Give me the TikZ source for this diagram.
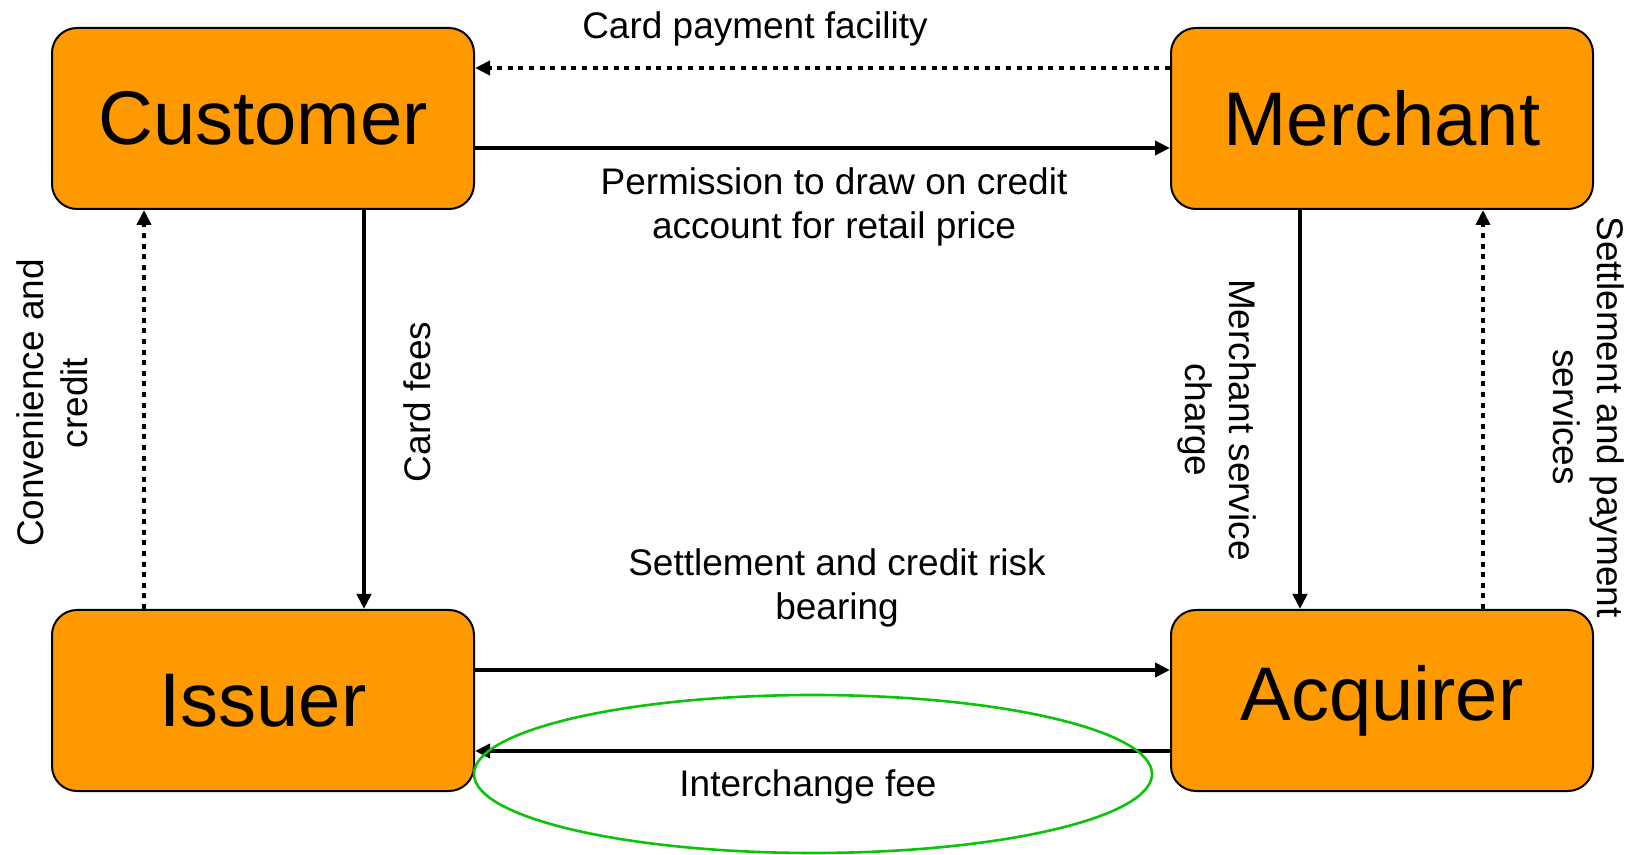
\documentclass[tikz,border=0pt]{standalone}
\usepackage{fontspec}
\setmainfont{Liberation Sans}
\usetikzlibrary{arrows.meta}
\definecolor{boxorange}{RGB}{255,153,0}
\definecolor{ringgreen}{RGB}{10,195,10}
\tikzset{
  party/.style={draw=black, line width=1pt, fill=boxorange, rounded corners=12.5pt,
    minimum width=211pt, minimum height=90.5pt, inner sep=0pt,
    font=\fontsize{38}{44}\selectfont},
  flow/.style={line width=2.3pt, -{Triangle[length=7.5pt,width=7pt]}},
  dotflow/.style={flow, dash pattern=on 2.5pt off 2.8pt},
  lbl/.style={inner sep=0pt, align=center, font=\fontsize{18.5}{22}\selectfont}
}
\begin{document}
\begin{tikzpicture}[x=0.5pt,y=0.5pt,yscale=-1]
\useasboundingbox (0,0) rectangle (1635,855);
% Parties
\node[party] (cust) at (263,118.5) {Customer};
\node[party] (merch) at (1382,118.5) {Merchant};
\node[party] (iss) at (263,700.5) {Issuer};
\node[party] (acq) at (1382,700.5) {Acquirer};
% Top flows
\draw[dotflow] (merch.west |- 0,68) -- (cust.east |- 0,68);
\draw[flow] (cust.east |- 0,148) -- (merch.west |- 0,148);
% Left flows
\draw[flow] (cust.south -| 364,0) -- (iss.north -| 364,0);
\draw[dotflow] (iss.north -| 144,0) -- (cust.south -| 144,0);
% Right flows
\draw[flow] (merch.south -| 1300,0) -- (acq.north -| 1300,0);
\draw[dotflow] (acq.north -| 1483,0) -- (merch.south -| 1483,0);
% Bottom flows
\draw[flow] (iss.east |- 0,670) -- (acq.west |- 0,670);
\draw[flow] (acq.west |- 0,751) -- (iss.east |- 0,751);
% Interchange ring
\draw[ringgreen, line width=1.3pt] (813,774) ellipse [x radius=339, y radius=79];
% Text Nodes
\node[lbl] (tcard) at (755,29) {Card payment facility};
\node[lbl] (tperm) at (834,207) {Permission to draw on credit\\account for retail price};
\node[lbl, rotate=90] (tfees) at (417,402) {Card fees};
\node[lbl, rotate=90] (tconv) at (52,403) {Convenience and\\credit};
\node[lbl, rotate=-90] (tmsc) at (1217,420) {Merchant service\\charge};
\node[lbl, rotate=-90] (tsps) at (1589,417) {Settlement and payment\\services};
\node[lbl] (trisk) at (837,588) {Settlement and credit risk\\bearing};
\node[lbl] (tinter) at (808,787) {Interchange fee};
\end{tikzpicture}
\end{document}
